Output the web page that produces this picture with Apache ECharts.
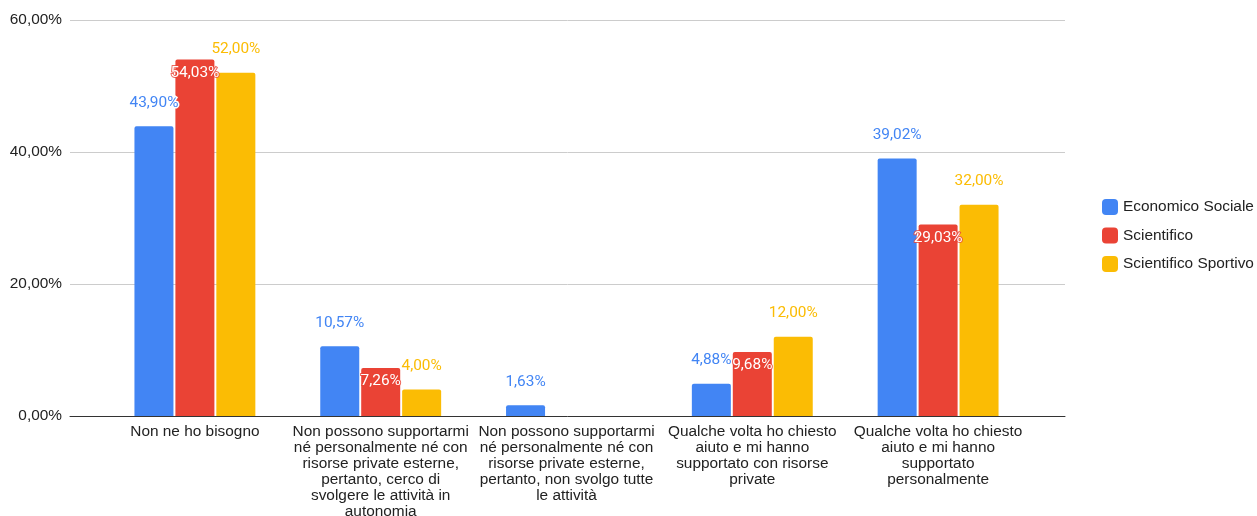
<!DOCTYPE html>
<html>
<head>
<meta charset="utf-8">
<script src="https://cdn.jsdelivr.net/npm/echarts@6/dist/echarts.min.js"></script>
<style>html,body{margin:0;padding:0;background:#fff}#c{width:1257px;height:516px}</style>
</head>
<body>
<div id="c"></div>
<script>
const categories = [
  'Non ne ho bisogno',
  'Non possono supportarmi\nné personalmente né con\nrisorse private esterne,\npertanto, cerco di\nsvolgere le attività in\nautonomia',
  'Non possono supportarmi\nné personalmente né con\nrisorse private esterne,\npertanto, non svolgo tutte\nle attività',
  'Qualche volta ho chiesto\naiuto e mi hanno\nsupportato con risorse\nprivate',
  'Qualche volta ho chiesto\naiuto e mi hanno\nsupportato\npersonalmente'
];
const seriesNames = ['Economico Sociale', 'Scientifico', 'Scientifico Sportivo'];
const economicoSociale = [43.90, 10.57, 1.63, 4.88, 39.02];
const scientifico = [54.03, 7.26, 0, 9.68, 29.03];
const scientificoSportivo = [52.00, 4.00, 0, 12.00, 32.00];
const yTicks = [0, 20, 40, 60];

const colors = ['#4285F4', '#EA4335', '#FBBC04'];
const FONT = '"Liberation Sans", Arial, sans-serif';
const FS = 15.4;
const fmt = v => v.toFixed(2).replace('.', ',') + '%';

function makeSeries(name, data, color, inside) {
  return {
    name: name, type: 'bar', xAxisIndex: 1, yAxisIndex: 1,
    data: data, barWidth: 39, barGap: '5%',
    itemStyle: { color: color, borderRadius: [2, 2, 0, 0] },
    label: {
      show: true,
      position: inside ? 'insideTop' : 'top',
      distance: inside ? 6 : 16,
      color: inside ? '#fff' : color,
      fontFamily: 'Roboto, sans-serif',
      fontSize: FS,
      textBorderColor: inside ? 'rgba(234,67,53,0.8)' : '#fff',
      textBorderWidth: inside ? 2 : 3,
      formatter: p => p.value ? fmt(p.value) : ''
    },
    emphasis: { disabled: true }
  };
}

const chart = echarts.init(document.getElementById('c'));
chart.setOption({
  animation: false,
  color: colors,
  legend: {
    orient: 'vertical', left: 1097, top: 194,
    itemWidth: 16, itemHeight: 16, itemGap: 12.5,
    icon: 'roundRect',
    textStyle: { fontFamily: FONT, fontSize: FS, color: '#222' },
    data: seriesNames
  },
  grid: [
    { left: 70, right: 192, top: 20, bottom: 100, outerBoundsMode: 'none', containLabel: false },
    { left: 102, right: 226, top: 20, bottom: 100, outerBoundsMode: 'none', containLabel: false }
  ],
  xAxis: [
    { gridIndex: 0, type: 'category', data: [''],
      axisLine: { show: true, lineStyle: { color: '#333', width: 1 } },
      axisTick: { show: false }, axisLabel: { show: false } },
    { gridIndex: 1, type: 'category', data: categories,
      axisLine: { show: false }, axisTick: { show: false },
      axisLabel: { interval: 0, margin: 8, fontFamily: FONT, fontSize: FS, color: '#222', lineHeight: 16, align: 'center' } }
  ],
  yAxis: [
    { gridIndex: 0, type: 'value', min: yTicks[0], max: yTicks[yTicks.length - 1], interval: 20,
      axisLine: { show: false }, axisTick: { show: false },
      axisLabel: { margin: 8, fontFamily: FONT, fontSize: FS, color: '#222', formatter: v => fmt(v) },
      splitLine: { lineStyle: { color: '#ccc' } } },
    { gridIndex: 1, type: 'value', min: 0, max: 60, interval: 20, show: false, splitLine: { show: false } }
  ],
  series: [
    makeSeries(seriesNames[0], economicoSociale, colors[0], false),
    makeSeries(seriesNames[1], scientifico, colors[1], true),
    makeSeries(seriesNames[2], scientificoSportivo, colors[2], false)
  ]
});
</script>
</body>
</html>
